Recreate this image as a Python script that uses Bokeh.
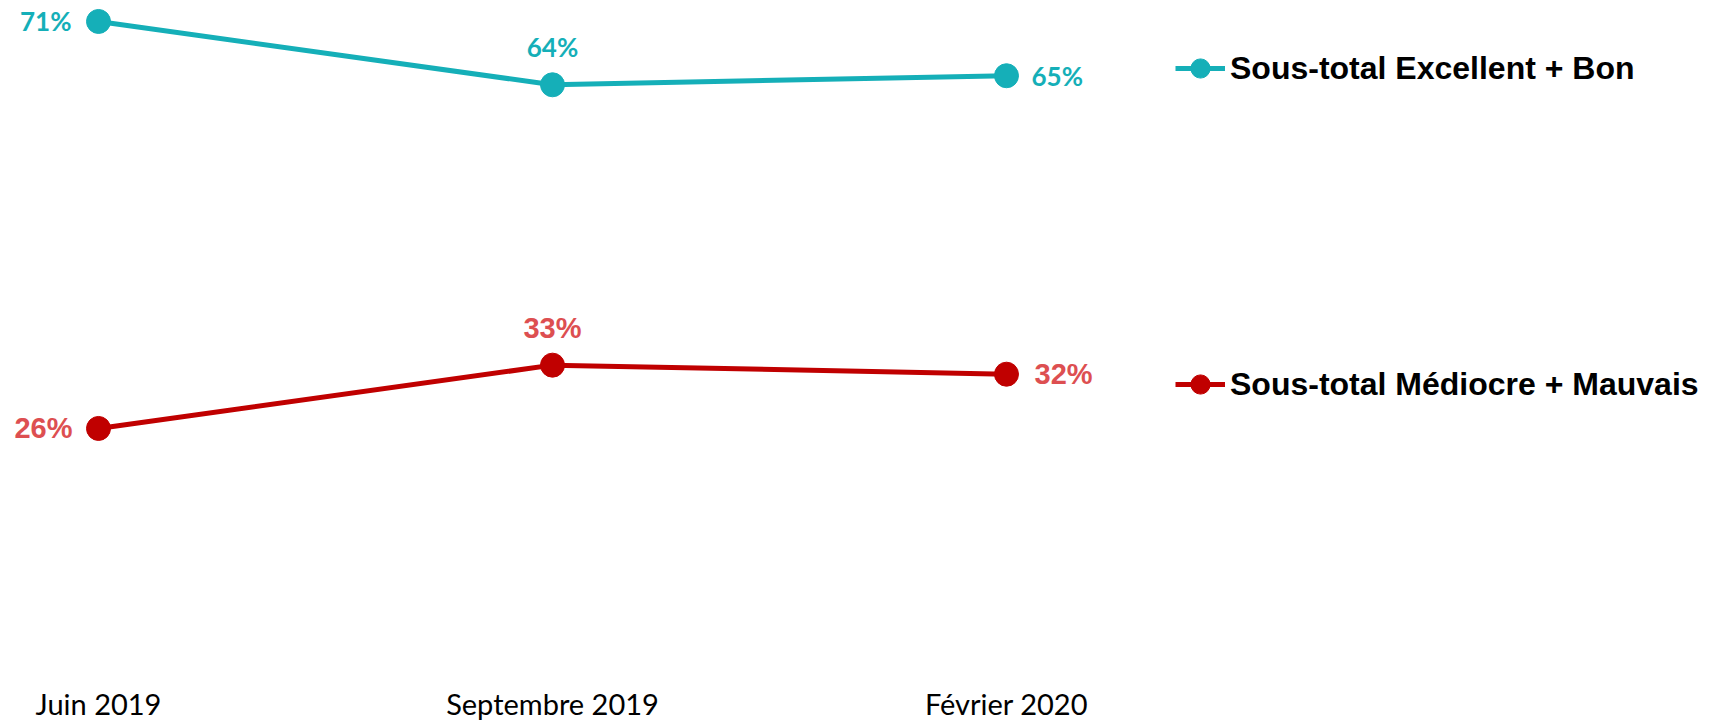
from bokeh.plotting import figure
from bokeh.models import (ColumnDataSource, Range1d, FixedTicker, Legend, LegendItem)
from bokeh.core.properties import value
from bokeh.embed import file_html
from bokeh.resources import INLINE

# ---- data ----
categories = ["Juin 2019", "Septembre 2019", "Février 2020"]
excellent_bon = [71, 64, 65]
mediocre_mauvais = [26, 33, 32]
series_names = ["Sous-total Excellent + Bon", "Sous-total Médiocre + Mauvais"]

# ---- style ----
TEAL = "#15AFB8"
RED = "#C00000"
RED_LABEL = "#DD4F51"
FRAME_W = 1705
FRAME_H = 679
PX_PER_X = 454.0
X0_PX = 98.0
PX_PER_Y = 9.044
Y0_PX = 663.1

x_idx = list(range(len(categories)))

p = figure(frame_width=FRAME_W, frame_height=FRAME_H, output_backend="svg",
           toolbar_location=None, min_border=0,
           x_range=Range1d(-X0_PX / PX_PER_X, (FRAME_W - X0_PX) / PX_PER_X),
           y_range=Range1d((Y0_PX - FRAME_H) / PX_PER_Y, Y0_PX / PX_PER_Y))
p.outline_line_color = None
p.background_fill_color = "white"
p.border_fill_color = "white"
p.xgrid.visible = False
p.ygrid.visible = False
p.yaxis.visible = False

xa = p.xaxis[0]
xa.ticker = FixedTicker(ticks=x_idx)
xa.major_label_overrides = {i: c for i, c in zip(x_idx, categories)}
xa.axis_line_color = None
xa.major_tick_line_color = None
xa.minor_tick_line_color = None
xa.major_label_standoff = 0
xa.major_label_text_font = "Lato"
xa.major_label_text_font_size = "29px"
xa.major_label_text_color = "#000000"

renderers = []
# label offsets (screen px) per point: (x_offset, y_offset, align)
label_styles = [
    [(-27, 0, "right"), (0, -38, "center"), (25, 0, "left")],
    [(-26, 0, "right"), (0, -37, "center"), (28, 0, "left")],
]
fonts = [("Lato", "26px", TEAL), ("Liberation Sans", "29px", RED_LABEL)]

for k, (vals, col) in enumerate([(excellent_bon, TEAL), (mediocre_mauvais, RED)]):
    src = ColumnDataSource(dict(x=x_idx, y=vals))
    lr = p.line("x", "y", source=src, line_color=col, line_width=5)
    sr = p.scatter("x", "y", source=src, size=24, fill_color=col, line_color=col)
    renderers.append((lr, sr))
    font, size, lcol = fonts[k]
    for i, v in enumerate(vals):
        xo, yo, al = label_styles[k][i]
        p.text(x=[x_idx[i]], y=[v], text=[f"{v}%"], x_offset=xo, y_offset=yo,
               text_align=al, text_baseline="middle",
               text_font=value(font), text_font_size=size, text_font_style="bold",
               text_color=lcol)

legend_y = [FRAME_H - 92, FRAME_H - 408]
for k, name in enumerate(series_names):
    lg = Legend(items=[LegendItem(label=name, renderers=list(renderers[k]))],
                location=(1175, legend_y[k]), orientation="vertical",
                glyph_width=50, glyph_height=48, label_standoff=5,
                padding=0, margin=0, spacing=0,
                border_line_color=None, background_fill_alpha=0,
                label_text_font="Liberation Sans", label_text_font_style="bold",
                label_text_font_size="32px", label_text_color="#000000")
    p.add_layout(lg, "center")

open("out.html", "w").write(file_html(p, INLINE))
